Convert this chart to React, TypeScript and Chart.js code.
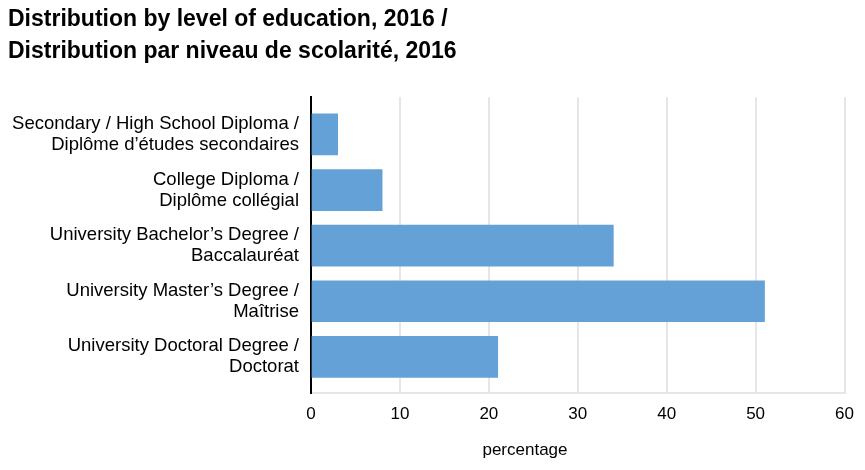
import React, { useEffect, useRef } from "react";
import { Chart, registerables } from "chart.js";

Chart.register(...registerables);

const titleLines = [
  "Distribution by level of education, 2016 /",
  "Distribution par niveau de scolarité, 2016",
];

const categories = [
  ["Secondary / High School Diploma /", "Diplôme d’études secondaires"],
  ["College Diploma /", "Diplôme collégial"],
  ["University Bachelor’s Degree /", "Baccalauréat"],
  ["University Master’s Degree /", "Maîtrise"],
  ["University Doctoral Degree /", "Doctorat"],
];

const percentages = [3, 8, 34, 51, 21];

const axisTitle = "percentage";

const FONT = "'Liberation Sans', Arial, Helvetica, sans-serif";

export default function App() {
  const canvasRef = useRef<HTMLCanvasElement | null>(null);
  const chartRef = useRef<Chart | null>(null);

  useEffect(() => {
    if (!canvasRef.current) return;
    if (chartRef.current) chartRef.current.destroy();

    chartRef.current = new Chart(canvasRef.current, {
      type: "bar",
      data: {
        datasets: [
          {
            label: "percentage",
            data: percentages.map((v, i) => ({ x: v, y: i })),
            backgroundColor: "#64a1d7",
            borderWidth: 0,
            barThickness: 41,
          },
        ],
      },
      options: {
        indexAxis: "y",
        animation: false,
        responsive: true,
        maintainAspectRatio: false,
        layout: { padding: { left: 8, right: 12, top: 0, bottom: 0 } },
        plugins: {
          legend: { display: false },
          tooltip: { enabled: false },
          title: {
            display: true,
            text: titleLines,
            align: "start",
            color: "#000",
            font: { family: FONT, size: 23, weight: "bold", lineHeight: 31.7 / 23 },
            padding: { top: 4, bottom: 29.8 },
          },
        },
        scales: {
          x: {
            type: "linear",
            min: 0,
            max: 60,
            ticks: {
              stepSize: 10,
              color: "#000",
              padding: 11,
              font: { family: FONT, size: 17 },
            },
            grid: {
              color: "#e6e6e6",
              lineWidth: 2,
              drawTicks: false,
            },
            border: { display: true, color: "#e6e6e6", width: 2 },
            afterFit: (axis: any) => {
              axis.height = 77;
            },
          },
          y: {
            type: "linear",
            reverse: true,
            offset: false,
            min: -0.67,
            max: 4.65,
            z: 1,
            afterBuildTicks: (axis: any) => {
              axis.ticks = categories.map((_, i) => ({ value: i }));
            },
            afterFit: (axis: any) => {
              axis.width = 303;
            },
            ticks: {
              color: "#000",
              padding: 12,
              autoSkip: false,
              font: { family: FONT, size: 18.5, lineHeight: 21 / 18.5 },
              callback: (value: any) => categories[value as number] ?? "",
            },
            grid: { display: false, drawTicks: false, offset: false },
            border: { display: true, color: "#000", width: 2 },
          },
        },
      },
    });

    return () => {
      if (chartRef.current) {
        chartRef.current.destroy();
        chartRef.current = null;
      }
    };
  }, []);

  return (
    <div style={{ position: "absolute", left: 0, top: 0, width: 865, height: 470 }}>
      <canvas ref={canvasRef} />
      <span
        style={{
          position: "absolute",
          left: 525,
          top: 450,
          transform: "translate(-50%, -50%)",
          fontFamily: FONT,
          fontSize: 17,
          color: "#000",
          whiteSpace: "nowrap",
        }}
      >
        {axisTitle}
      </span>
    </div>
  );
}
